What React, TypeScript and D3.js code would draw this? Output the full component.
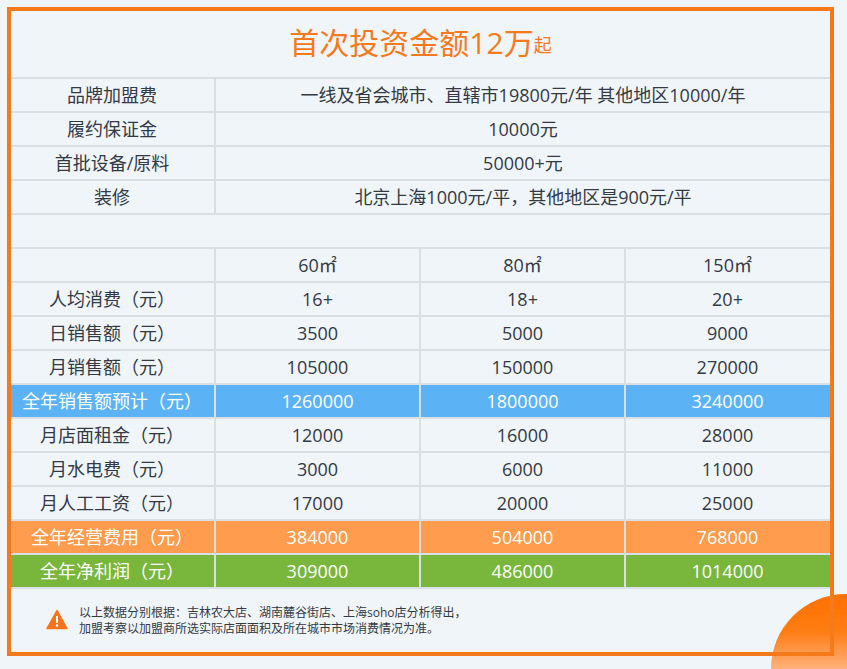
import { useEffect, useRef } from 'react';
import * as d3 from 'd3';

const title = '首次投资金额12万';
const titleSuffix = '起';

const feeLabels = ['品牌加盟费', '履约保证金', '首批设备/原料', '装修'];
const feeValues = [
  '一线及省会城市、直辖市19800元/年 其他地区10000/年',
  '10000元',
  '50000+元',
  '北京上海1000元/平，其他地区是900元/平',
];

const sizes = ['60㎡', '80㎡', '150㎡'];
const rowLabels = [
  '人均消费（元）',
  '日销售额（元）',
  '月销售额（元）',
  '全年销售额预计（元）',
  '月店面租金（元）',
  '月水电费（元）',
  '月人工工资（元）',
  '全年经营费用（元）',
  '全年净利润（元）',
];
const col60 = ['16+', '3500', '105000', '1260000', '12000', '3000', '17000', '384000', '309000'];
const col80 = ['18+', '5000', '150000', '1800000', '16000', '6000', '20000', '504000', '486000'];
const col150 = ['20+', '9000', '270000', '3240000', '28000', '11000', '25000', '768000', '1014000'];

const highlights: Record<string, string> = {
  '全年销售额预计（元）': '#5bb3f5',
  '全年经营费用（元）': '#ff9c4d',
  '全年净利润（元）': '#78b63c',
};

const noteLines = [
  '以上数据分别根据：吉林农大店、湖南麓谷街店、上海soho店分析得出，',
  '加盟考察以加盟商所选实际店面面积及所在城市市场消费情况为准。',
];

const W = 847;
const H = 669;
const FONT = '"Open Sans", "Noto Sans CJK SC", sans-serif';
const LINE = '#dadfe4';
const BG = '#f0f5f9';
const TEXT = '#333a44';
const ORANGE = '#f47a1c';

export default function App() {
  const svgRef = useRef<SVGSVGElement>(null);

  useEffect(() => {
    if (!svgRef.current) return;
    const svg = d3.select(svgRef.current);
    svg.selectAll('*').remove();
    svg.attr('width', W).attr('height', H).style('font-family', FONT);

    const defs = svg.append('defs');
    const grad = defs
      .append('linearGradient')
      .attr('id', 'cornerFill')
      .attr('x1', 0)
      .attr('y1', 0)
      .attr('x2', 0)
      .attr('y2', 1);
    grad.append('stop').attr('offset', '0%').attr('stop-color', '#ff7200');
    grad.append('stop').attr('offset', '25%').attr('stop-color', '#ff7c12');
    grad.append('stop').attr('offset', '50%').attr('stop-color', '#ffb27d');

    svg.append('rect').attr('width', W).attr('height', H).attr('fill', BG);

    // row tracks: 4 fee rows, blank spacer, size header, data rows
    const rowKeys = ['fee0', 'fee1', 'fee2', 'fee3', 'blank', 'head', ...rowLabels];
    const y = d3
      .scaleBand()
      .domain(rowKeys)
      .range([78, 78 + rowKeys.length * 34]);
    const x = d3
      .scaleBand()
      .domain(sizes)
      .range([215, 830]);
    const left = 11;
    const right = 831;

    const cellText = (cx: number, cy: number, s: string, fill = TEXT) =>
      svg
        .append('text')
        .attr('x', cx)
        .attr('y', cy)
        .attr('text-anchor', 'middle')
        .attr('dominant-baseline', 'central')
        .attr('font-size', 18)
        .attr('fill', fill)
        .text(s);

    // coloured rows first so the grid sits on top
    rowLabels.forEach((label) => {
      const c = highlights[label];
      if (!c) return;
      svg
        .append('rect')
        .attr('x', left)
        .attr('y', y(label) ?? 0)
        .attr('width', right - left)
        .attr('height', y.bandwidth())
        .attr('fill', c);
    });

    // horizontal rules
    [...rowKeys, 'end'].forEach((k) => {
      const yy = k === 'end' ? y.range()[1] : y(k) ?? 0;
      svg
        .append('line')
        .attr('x1', left)
        .attr('x2', right)
        .attr('y1', yy)
        .attr('y2', yy)
        .attr('stroke', LINE)
        .attr('stroke-width', 2);
    });

    // vertical rules
    const vLine = (xx: number, y1: number, y2: number) =>
      svg
        .append('line')
        .attr('x1', xx)
        .attr('x2', xx)
        .attr('y1', y1)
        .attr('y2', y2)
        .attr('stroke', LINE)
        .attr('stroke-width', 2);
    vLine(x.range()[0], y('fee0') ?? 0, y('blank') ?? 0);
    vLine(x.range()[0], y('head') ?? 0, y.range()[1]);
    sizes.slice(1).forEach((s) => vLine(x(s) ?? 0, y('head') ?? 0, y.range()[1]));

    // title
    const titleEl = svg
      .append('text')
      .attr('x', 420.5)
      .attr('y', 42)
      .attr('text-anchor', 'middle')
      .attr('dominant-baseline', 'central')
      .attr('font-size', 30)
      .attr('fill', ORANGE);
    titleEl.append('tspan').text(title);
    titleEl.append('tspan').attr('font-size', 18).attr('dy', 3).text(titleSuffix);

    const labelX = (left + x.range()[0]) / 2 - 1;
    const mid = (k: string) => (y(k) ?? 0) + y.bandwidth() / 2;

    feeLabels.forEach((l, i) => {
      cellText(labelX, mid(`fee${i}`), l);
      cellText((x.range()[0] + right) / 2, mid(`fee${i}`), feeValues[i]);
    });

    sizes.forEach((s) => {
      cellText((x(s) ?? 0) + x.bandwidth() / 2, mid('head'), s);
    });

    const columns = [col60, col80, col150];
    rowLabels.forEach((label, r) => {
      const fill = highlights[label] ? '#ffffff' : TEXT;
      cellText(labelX, mid(label), label, fill);
      columns.forEach((col, c) => {
        cellText((x(sizes[c]) ?? 0) + x.bandwidth() / 2, mid(label), col[r], fill);
      });
    });

    // footnote
    const tri = svg.append('g').attr('transform', 'translate(57,620)');
    tri
      .append('path')
      .attr('d', 'M0,-9.5 L10,8.5 L-10,8.5 Z')
      .attr('fill', '#f4741a')
      .attr('stroke', '#f4741a')
      .attr('stroke-width', 1.5)
      .attr('stroke-linejoin', 'round');
    tri.append('rect').attr('x', -1).attr('y', -4).attr('width', 2).attr('height', 7).attr('fill', '#fff');
    tri.append('circle').attr('cx', 0).attr('cy', 5.5).attr('r', 1.2).attr('fill', '#fff');

    noteLines.forEach((line, i) => {
      svg
        .append('text')
        .attr('x', 79)
        .attr('y', 612.5 + i * 16)
        .attr('dominant-baseline', 'central')
        .attr('font-size', 12)
        .attr('fill', TEXT)
        .text(line);
    });

    // corner circle, then frame
    svg
      .append('circle')
      .attr('cx', 846)
      .attr('cy', 669)
      .attr('r', 75)
      .attr('fill', 'url(#cornerFill)');
    svg
      .append('rect')
      .attr('x', 9)
      .attr('y', 9)
      .attr('width', 823)
      .attr('height', 645)
      .attr('fill', 'none')
      .attr('stroke', ORANGE)
      .attr('stroke-width', 4);
  }, []);

  return <svg ref={svgRef} style={{ position: 'absolute', left: 0, top: 0, display: 'block' }} />;
}
